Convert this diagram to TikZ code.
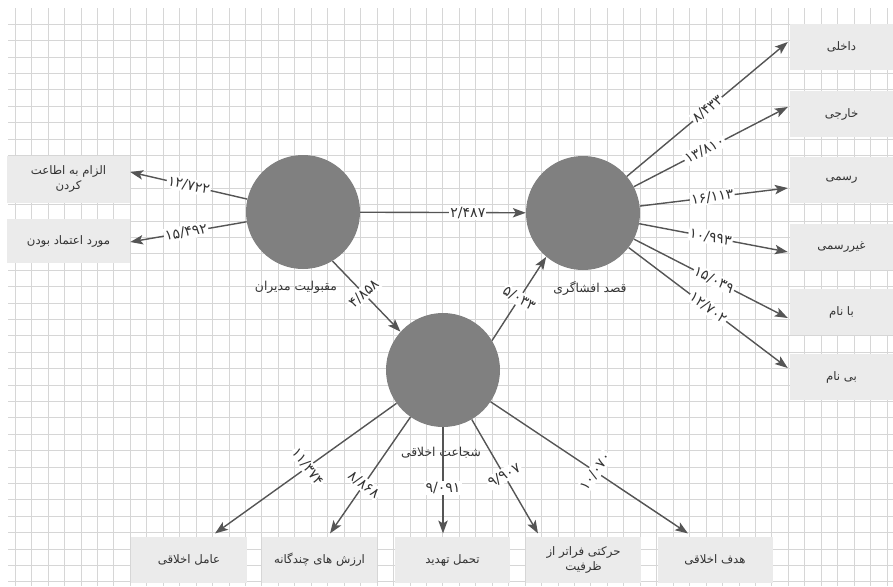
\documentclass[tikz,border=0pt]{standalone}
\usepackage{fontspec}
\usetikzlibrary{arrows.meta,calc}
\TeXXeTstate=1
\newfontfamily\fa[Script=Arabic]{DejaVu Sans}
\newcommand{\fatext}[1]{{\fa\beginR #1\endR}}
\definecolor{gridc}{HTML}{D6D6D6}
\definecolor{boxc}{HTML}{EBEBEB}
\definecolor{circc}{HTML}{808080}
\definecolor{edgec}{HTML}{555555}
\definecolor{txtc}{HTML}{333333}
\tikzset{
  factor/.style={circle, fill=circc, minimum size=3.42cm, inner sep=0pt},
  ftitle/.style={inner sep=1pt, text=txtc, font=\fa\fontsize{10.5}{12}\selectfont},
  indbox/.style={fill=boxc, minimum width=#1, minimum height=1.4cm, inner sep=1pt,
    align=center, text=txtc, font=\fa\fontsize{10}{13}\selectfont},
  indbox/.default=3.45cm,
  coef/.style={fill=white, inner sep=1pt, text=txtc, font=\fa\fontsize{12}{13}\selectfont},
  link/.style={draw=edgec, line width=1.2pt, -{Stealth[length=11pt,width=8pt,inset=2.5pt]}}
}
\begin{document}
\begin{tikzpicture}[x=0.03cm, y=-0.03cm]
  \useasboundingbox (0,0) rectangle (893,586);
  % grid
  \foreach \i in {0,...,53}
    \draw[gridc, line width=0.5pt] (15+16.45*\i,8) -- (15+16.45*\i,586);
  \foreach \j in {0,...,34}
    \draw[gridc, line width=0.5pt] (8,24+16.4*\j) -- (893,24+16.4*\j);

  % factors
  \node[factor] (c1) at (303,212) {};
  \node[factor] (c2) at (583,213) {};
  \node[factor] (c3) at (443,370) {};
  \node[ftitle] (c1lab) at (296,287) {\fatext{مقبولیت مدیران}};
  \node[ftitle] (c2lab) at (590,288) {\fatext{قصد افشاگری}};
  \node[ftitle] (c3lab) at (441,453) {\fatext{شجاعت اخلاقی}};

  % left indicators
  \node[indbox=3.69cm, minimum height=1.41cm] (elzam) at (68.5,179)
    {\fatext{الزام به اطاعت}\\\fatext{کردن}};
  \node[indbox=3.69cm, minimum height=1.3cm] (etemad) at (68.5,241)
    {\fatext{مورد اعتماد بودن}};

  % right indicators
  \node[indbox=3.09cm, minimum height=1.38cm] (dakheli) at (841.5,47) {\fatext{داخلی}};
  \node[indbox=3.09cm, minimum height=1.38cm] (khareji) at (841.5,114) {\fatext{خارجی}};
  \node[indbox=3.09cm, minimum height=1.38cm] (rasmi) at (841.5,180) {\fatext{رسمی}};
  \node[indbox=3.09cm, minimum height=1.38cm] (gheyr) at (841.5,247) {\fatext{غیررسمی}};
  \node[indbox=3.09cm, minimum height=1.38cm] (banam) at (841.5,312) {\fatext{با نام}};
  \node[indbox=3.09cm, minimum height=1.38cm] (binam) at (841.5,377) {\fatext{بی نام}};

  % bottom indicators
  \node[indbox] (amel) at (189,560) {\fatext{عامل اخلاقی}};
  \node[indbox] (arzesh) at (319.5,560) {\fatext{ارزش های چندگانه}};
  \node[indbox] (tahamol) at (452.5,560) {\fatext{تحمل تهدید}};
  \node[indbox] (harekat) at (583.5,560) {\fatext{حرکتی فراتر از}\\\fatext{ظرفیت}};
  \node[indbox] (hadaf) at (715,560) {\fatext{هدف اخلاقی}};

  % connectors
  \draw[link] (c1) -- node[coef, sloped, pos=.5] {۱۲/۷۲۲} ($(elzam.east)+(0,-7)$);
  \draw[link] (c1) -- node[coef, sloped, pos=.52] {۱۵/۴۹۲} ($(etemad.east)+(0,1)$);
  \draw[link] (c1) -- node[coef, pos=.65] {۲/۴۸۷} (c2);
  \draw[link] (c1.-59) -- node[coef, pos=.46, rotate=42] {۴/۸۵۸} (c3.138);
  \draw[link] (c3.31) -- node[coef, pos=.5, rotate=-30] {۵/۰۳۳} (c2.-130);

  \draw[link] (c2) -- node[coef, sloped, pos=.5] {۸/۴۳۳} ($(dakheli.west)+(-2,-5)$);
  \draw[link] (c2) -- node[coef, sloped, pos=.46] {۱۳/۸۱۰} ($(khareji.west)+(-2,-7)$);
  \draw[link] (c2) -- node[coef, sloped, pos=.49] {۱۶/۱۱۳} ($(rasmi.west)+(-2,8)$);
  \draw[link] (c2) -- node[coef, sloped, pos=.48] {۱۰/۹۹۳} ($(gheyr.west)+(-2,5)$);
  \draw[link] (c2) -- node[coef, sloped, pos=.52] {۱۵/۰۳۹} ($(banam.west)+(-2,6)$);
  \draw[link] (c2) -- node[coef, sloped, pos=.5] {۱۲/۷۰۲} ($(binam.west)+(-2,-9)$);

  \draw[link] (c3) -- node[coef, pos=.49, rotate=-53] {۱۱/۳۷۴} ($(amel.north)+(26,-3)$);
  \draw[link] (c3) -- node[coef, pos=.58, rotate=-37] {۸/۸۶۸} ($(arzesh.north)+(10.5,-3)$);
  \draw[link] (c3) -- node[coef, pos=.57] {۹/۰۹۱} ($(tahamol.north)+(-9.5,-3)$);
  \draw[link] (c3) -- node[coef, pos=.49, rotate=30] {۹/۹۰۷} ($(harekat.north)+(-45.5,-3)$);
  \draw[link] (c3) -- node[coef, pos=.53, rotate=55] {۱۰/۰۷۰} ($(hadaf.north)+(-27,-3)$);
\end{tikzpicture}
\end{document}
